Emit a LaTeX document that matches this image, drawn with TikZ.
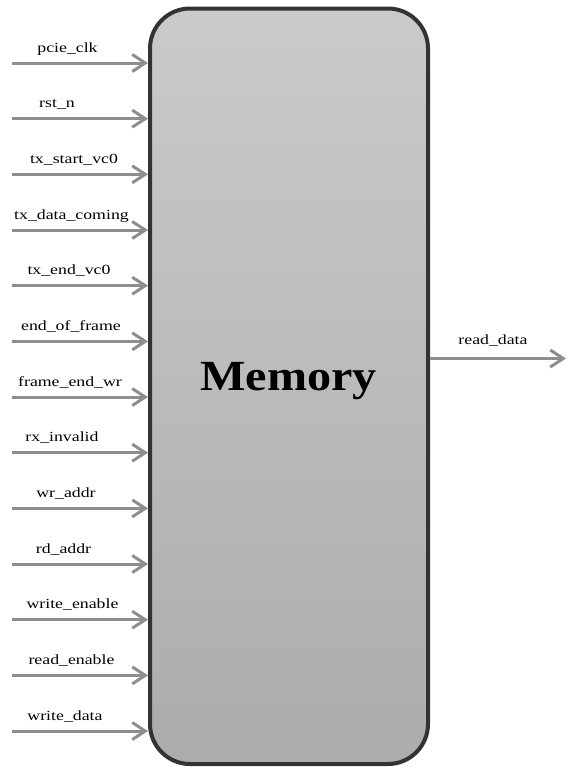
\documentclass[tikz,border=0pt]{standalone}
\usepackage{fontspec}
\setmainfont{Liberation Serif}
\newfontfamily\sigfont[FakeStretch=1.27]{Liberation Serif}
\newfontfamily\titlefont[FakeStretch=1.12]{Liberation Serif}
\usetikzlibrary{arrows.meta}
\definecolor{wire}{HTML}{8E8E8E}
\definecolor{rim}{HTML}{333333}
\definecolor{fillhi}{HTML}{CACACA}
\definecolor{filllo}{HTML}{ACACAC}
\tikzset{
  sig/.style={draw=wire, line width=3pt,
    -{Straight Barb[length=13pt,width=17pt,line width=3pt]}},
  lbl/.style={font=\sigfont\fontsize{14}{14}\selectfont, anchor=base, inner sep=0pt},
  block/.style={draw=rim, line width=4pt, rounded corners=40pt,
    top color=fillhi, bottom color=filllo, inner sep=0pt}
}
\begin{document}
\begin{tikzpicture}[x=1pt, y=-1pt]
  \useasboundingbox (0,0) rectangle (571,769);
  % memory block
  \node[block, minimum width=278pt, minimum height=755.5pt] (mem) at (289,386.25) {};
  \node[font=\titlefont\bfseries\fontsize{43}{43}\selectfont, anchor=base, inner sep=0pt]
    (memtitle) at (288.5,390) {Memory};
  % input ports: name / label centre x / index
  \foreach \name/\lx/\i in {pcie\_clk/67.5/0, rst\_n/57/1, tx\_start\_vc0/74/2,
      tx\_data\_coming/71.5/3, tx\_end\_vc0/69/4, end\_of\_frame/71/5,
      frame\_end\_wr/70/6, rx\_invalid/62/7, wr\_addr/66/8, rd\_addr/63.5/9,
      write\_enable/72.5/10, read\_enable/71.5/11, write\_data/65/12}{
    \pgfmathsetmacro{\yy}{63+55.67*\i}
    \coordinate (in\i) at (12,\yy);
    \draw[sig] (in\i) -- (in\i -| mem.west);
    \node[lbl] (lab\i) at (\lx,\yy-11) {\name};
  }
  % output port
  \coordinate (out) at (566,358.5);
  \draw[sig] (out -| mem.east) -- (out);
  \node[lbl] (outlab) at (493,344) {read\_data};
\end{tikzpicture}
\end{document}
